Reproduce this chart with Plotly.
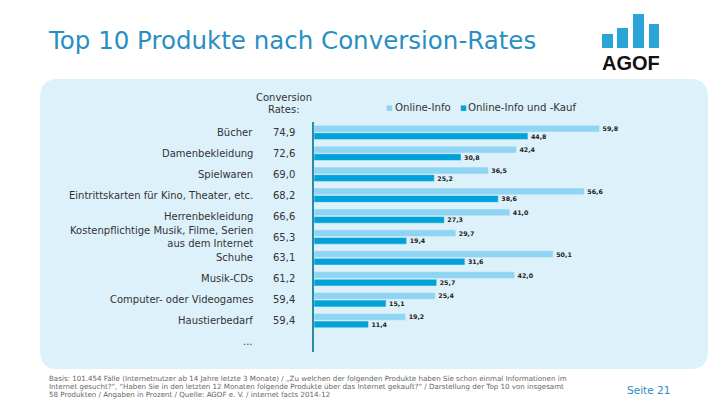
import plotly.graph_objects as go

# ---- data ----
categories = ["Bücher", "Damenbekleidung", "Spielwaren", "Eintrittskarten für Kino, Theater, etc.",
              "Herrenbekleidung", "Kostenpflichtige Musik, Filme, Serien<br>aus dem Internet",
              "Schuhe", "Musik-CDs", "Computer- oder Videogames", "Haustierbedarf", "..."]
conversion_rates = ["74,9", "72,6", "69,0", "68,2", "66,6", "65,3", "63,1", "61,2", "59,4", "59,4", ""]
online_info = [59.8, 42.4, 36.5, 56.6, 41.0, 29.7, 50.1, 42.0, 25.4, 19.2, None]
online_info_kauf = [44.8, 30.8, 25.2, 38.6, 27.3, 19.4, 31.6, 25.7, 15.1, 11.4, None]
series_names = ["Online-Info", "Online-Info und -Kauf"]

W, H = 720, 405
L, R, T, B = 314, 24, 122, 53

def px_x(px):
    return (px - L) / (W - L - R)

def px_y(py):
    return (H - B - py) / (H - T - B)

LIGHT = "#8DD5F2"
DARK = "#00A2DA"
PANEL = "#DDF1FB"
TEAL = "#2A8FC0"
FONT = "DejaVu Sans"

def fmt(v):
    return "" if v is None else f"{v:.1f}".replace(".", ",")

fig = go.Figure()
for vals, name, col in [(online_info, series_names[0], LIGHT), (online_info_kauf, series_names[1], DARK)]:
    fig.add_trace(go.Bar(
        y=categories, x=vals, orientation="h", name=name, marker_color=col,
        text=[fmt(v) for v in vals], textposition="outside", constraintext="none",
        textfont=dict(family=FONT, size=6.3, color="#222222", weight="bold"),
        cliponaxis=False, showlegend=False, hoverinfo="skip",
    ))

annotations = []
# category names and value column
for cat, cr in zip(categories, conversion_rates):
    annotations.append(dict(x=px_x(255), y=cat, xref="paper", yref="y", text=cat,
                            xanchor="right", yanchor="middle", align="right", showarrow=False,
                            font=dict(family=FONT, size=10, color="#333333")))
    if cr:
        annotations.append(dict(x=px_x(271), y=cat, xref="paper", yref="y", text=cr,
                                xanchor="left", yanchor="middle", showarrow=False,
                                font=dict(family=FONT, size=10, color="#333333")))

def pa(x, y, text, size, color, xanchor="left", family=FONT, weight="normal", align="left"):
    annotations.append(dict(x=px_x(x), y=px_y(y), xref="paper", yref="paper", text=text,
                            xanchor=xanchor, yanchor="middle", align=align, showarrow=False,
                            font=dict(family=family, size=size, color=color, weight=weight)))

pa(284, 97, "Conversion", 10, "#333333", xanchor="center")
pa(284, 109, "Rates:", 10, "#333333", xanchor="center")

# legend
pa(384, 108, "■", 7, LIGHT)
pa(393, 108, series_names[0], 10.2, "#333333")
pa(458, 108, "■", 7, DARK)
pa(466, 108, series_names[1], 10.2, "#333333")

# title
pa(46, 40, "Top 10 Produkte nach Conversion-Rates", 24.5, TEAL)

# logo text
pa(631, 63, "AGOF", 20, "#111111", xanchor="center", family="Liberation Sans", weight="bold")

# footer
footer_lines = [
    "Basis: 101.454 Fälle (Internetnutzer ab 14 Jahre letzte 3 Monate) / „Zu welchen der folgenden Produkte haben Sie schon einmal Informationen im",
    "Internet gesucht?“, “Haben Sie in den letzten 12 Monaten folgende Produkte über das Internet gekauft?“ / Darstellung der Top 10 von insgesamt",
    "58 Produkten / Angaben in Prozent / Quelle: AGOF e. V. / internet facts 2014-12",
]
for i, line in enumerate(footer_lines):
    pa(47, 378 + i * 8, line, 7.1, "#666666")
pa(672, 390, "Seite 21", 10.5, TEAL, xanchor="right")

# panel shape (rounded rectangle)
x0, y0, x1, y1, r = 40, 79, 708, 369, 18
def P(x, y):
    return f"{px_x(x):.5f},{px_y(y):.5f}"
path = (f"M {P(x0 + r, y0)} L {P(x1 - r, y0)} Q {P(x1, y0)} {P(x1, y0 + r)} "
        f"L {P(x1, y1 - r)} Q {P(x1, y1)} {P(x1 - r, y1)} L {P(x0 + r, y1)} "
        f"Q {P(x0, y1)} {P(x0, y1 - r)} L {P(x0, y0 + r)} Q {P(x0, y0)} {P(x0 + r, y0)} Z")
shapes = [dict(type="path", path=path, xref="paper", yref="paper", fillcolor=PANEL,
               line=dict(width=0), layer="below")]
# logo bars
LOGO = "#2BA4D8"
for bx0, bx1, by0 in [(602, 613, 34), (617, 628, 28), (633, 644, 14), (649, 659, 24)]:
    shapes.append(dict(type="rect", xref="paper", yref="paper",
                       x0=px_x(bx0), x1=px_x(bx1), y0=px_y(48), y1=px_y(by0),
                       fillcolor=LOGO, line=dict(width=0)))

fig.update_layout(
    width=W, height=H, margin=dict(l=L, r=R, t=T, b=B),
    paper_bgcolor="white", plot_bgcolor="rgba(0,0,0,0)",
    barmode="group", bargap=0.28, bargroupgap=0.1,
    xaxis=dict(range=[0, 80], visible=False, fixedrange=True),
    yaxis=dict(autorange="reversed", showticklabels=False, ticks="", showgrid=False,
               showline=True, linecolor="#2F8BA3", linewidth=2, zeroline=False, fixedrange=True),
    annotations=annotations, shapes=shapes,
)
fig.write_html("out.html", config={"displayModeBar": False},
               post_script="document.body.style.margin='0';document.body.style.overflow='hidden';")
